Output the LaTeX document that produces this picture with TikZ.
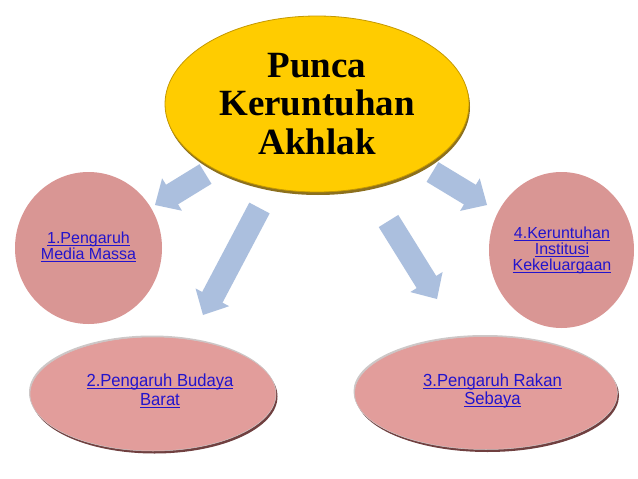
\documentclass[tikz,border=0pt]{standalone}
\usepackage{fontspec}
\setmainfont{Liberation Serif}
\newfontfamily\linkfont{Liberation Sans}
\newfontfamily\linkfontn[FakeStretch=0.95]{Liberation Sans}
\usetikzlibrary{shapes.geometric,calc,shadows}
\definecolor{goldfill}{RGB}{255,204,0}
\definecolor{goldedge}{RGB}{196,152,0}
\definecolor{goldshadow}{RGB}{140,112,30}
\definecolor{circfill}{RGB}{217,150,148}
\definecolor{ovalfill}{RGB}{226,157,155}
\definecolor{ovalshadow}{RGB}{112,64,64}
\definecolor{ovalrim}{RGB}{205,200,200}
\definecolor{arrowblue}{RGB}{171,191,222}
\definecolor{linkblue}{RGB}{34,20,204}
\newcommand\linkul[1]{\setbox0\hbox{#1}\rlap{\rule[-2.2pt]{\wd0}{0.9pt}}\box0}
\newcommand\blockarrow[2]{%
  \coordinate (#1h) at ($(#2)!20pt!(#1)$);
  \fill[arrowblue] ($(#1)!11.5pt!90:(#2)$) -- ($(#1h)!11.5pt!90:(#2)$)
    -- ($(#1h)!19pt!90:(#2)$) -- (#2) -- ($(#1h)!19pt!-90:(#2)$)
    -- ($(#1h)!11.5pt!-90:(#2)$) -- ($(#1)!11.5pt!-90:(#2)$) -- cycle;}
\begin{document}
\begin{tikzpicture}[x=1pt,y=-1pt,
  title/.style={ellipse,fill=goldfill,draw=goldedge,line width=0.8pt,inner sep=0pt,
    general shadow={fill=goldshadow,shadow xshift=1pt,shadow yshift=-3pt},
    minimum width=304pt,minimum height=176pt,align=center,
    font=\bfseries\fontsize{37}{38.5}\selectfont},
  circ/.style={ellipse,fill=circfill,inner sep=0pt},
  oval/.style={ellipse,fill=ovalfill,draw=ovalrim,line width=0.5pt,inner sep=0pt,
    general shadow={fill=ovalrim,shadow xshift=-1pt,shadow yshift=1.5pt},
    general shadow={fill=ovalshadow,shadow xshift=1.5pt,shadow yshift=-2.5pt}},
  linktext/.style={align=center,text=linkblue,inner sep=0pt,
    font=\linkfont\fontsize{16}{15.5}\selectfont},
  ovaltext/.style={align=center,text=linkblue,inner sep=0pt,
    font=\linkfontn\fontsize{17.5}{18.6}\selectfont}]
\useasboundingbox (0,0) rectangle (638,479);
\fill[white] (0,0) rectangle (638,479);
% block arrows
\coordinate (a1) at (205.5,174); \coordinate (a1t) at (155,205);
\coordinate (a2) at (259.5,208); \coordinate (a2t) at (203,315);
\coordinate (a3) at (388.5,221); \coordinate (a3t) at (437,299);
\coordinate (a4) at (432.5,172); \coordinate (a4t) at (487,205);
\blockarrow{a1}{a1t}
\blockarrow{a2}{a2t}
\blockarrow{a3}{a3t}
\blockarrow{a4}{a4t}
% nodes
\node[title] (c0) at (317,104) {Punca\\Keruntuhan\\Akhlak};
\node[circ,minimum width=147pt,minimum height=152pt] (m1) at (88.5,248) {};
\node[linktext] (t1) at (88.5,247) {\linkul{1.Pengaruh}\\\linkul{Media Massa}};
\node[circ,minimum width=145pt,minimum height=156pt] (m4) at (561.5,250) {};
\node[linktext,font=\linkfont\fontsize{16}{16}\selectfont] (t4) at (562,250.5) {\linkul{4.Keruntuhan}\\\linkul{Institusi}\\\linkul{Kekeluargaan}};
\node[oval,minimum width=246pt,minimum height=114pt] (m2) at (153,394) {};
\node[ovaltext] (t2) at (160,391) {\linkul{2.Pengaruh Budaya}\\\linkul{Barat}};
\node[oval,minimum width=263pt,minimum height=113pt] (m3) at (486,393) {};
\node[ovaltext] (t3) at (492.5,391) {\linkul{3.Pengaruh Rakan}\\\linkul{Sebaya}};
\end{tikzpicture}
\end{document}
